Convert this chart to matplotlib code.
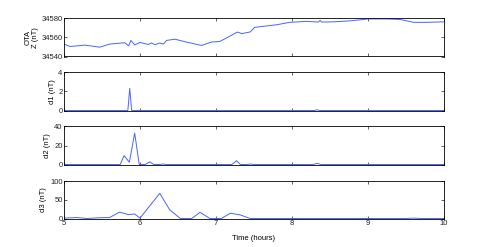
import numpy as np
import matplotlib
matplotlib.use('Agg')
import matplotlib.pyplot as plt

plt.rcParams['font.family'] = ['Liberation Sans', 'DejaVu Sans']
plt.rcParams['font.size'] = 5.5

# --- data ---
t_z = [5.0, 5.08, 5.28, 5.47, 5.6, 5.8, 5.85, 5.88, 5.93, 6.0, 6.11, 6.15, 6.2,
       6.26, 6.31, 6.35, 6.46, 6.61, 6.81, 6.94, 7.05, 7.18, 7.28, 7.34, 7.45,
       7.51, 7.8, 7.97, 8.19, 8.35, 8.37, 8.39, 8.54, 8.76, 9.0, 9.25, 9.42,
       9.6, 9.77, 10.0]
z = [34552.9, 34550.4, 34551.8, 34549.7, 34552.9, 34554.3, 34551.0, 34556.7,
     34552.0, 34554.6, 34552.5, 34554.0, 34552.3, 34554.0, 34553.0, 34556.7,
     34558.0, 34555.0, 34551.5, 34555.0, 34555.6, 34561.0, 34565.4, 34563.8,
     34565.5, 34570.3, 34573.0, 34575.5, 34576.5, 34575.8, 34577.5, 34575.8,
     34576.0, 34577.0, 34579.0, 34579.0, 34578.5, 34575.5, 34575.5, 34576.0]

t_d1 = [5.0, 5.84, 5.865, 5.89, 8.30, 8.33, 8.36, 10.0]
d1 = [0, 0, 2.3, 0, 0, 0.08, 0, 0]

t_d2 = [5.0, 5.74, 5.79, 5.86, 5.93, 5.99, 6.07, 6.13, 6.18, 6.26, 6.3, 6.35,
        7.21, 7.27, 7.32, 7.4, 7.45, 7.5, 8.28, 8.33, 8.38, 10.0]
d2 = [0, 0, 9.4, 2.4, 33, 0, 0, 2.8, 0, 0, 0.5, 0,
      0, 4.0, 0, 0, 0.5, 0, 0, 1.2, 0, 0]

t_d3 = [5.0, 5.17, 5.3, 5.47, 5.6, 5.73, 5.85, 5.93, 6.0, 6.26, 6.39, 6.53,
        6.68, 6.79, 6.92, 7.07, 7.19, 7.32, 7.45, 9.5, 9.6, 9.7, 10.0]
d3 = [1, 2.6, 0, 2, 2.6, 17, 10.4, 12, 1, 67, 23.5, 0,
      0, 16.5, 0, 0, 14, 9.5, 0, 0, 1, 0, 0]

panels = [
    (t_z, z, 'OTA\nZ (nT)', (34540, 34580), [34540, 34560, 34580]),
    (t_d1, d1, 'd1 (nT)', (0, 4), [0, 2, 4]),
    (t_d2, d2, 'd2 (nT)', (0, 40), [0, 20, 40]),
    (t_d3, d3, 'd3 (nT)', (0, 100), [0, 50, 100]),
]

line_color = '#4a63ff'
W, H = 491, 247
left, right = 64, 444
tops = [18, 72, 126.5, 181]
bottoms = [56.5, 110.5, 164.5, 218.5]

fig = plt.figure(figsize=(W / 100, H / 100), dpi=100)

for i, (tx, y, lab, ylim, yt) in enumerate(panels):
    ax = fig.add_axes([left / W, 1 - bottoms[i] / H,
                       (right - left) / W, (bottoms[i] - tops[i]) / H])
    ax.plot(tx, y, color=line_color, lw=0.7)
    ax.set_xlim(5, 10)
    ax.set_ylim(*ylim)
    ax.set_yticks(yt)
    ax.set_xticks([5, 6, 7, 8, 9, 10])
    ax.tick_params(direction='in', top=True, right=True, length=2,
                   width=0.5, pad=1, labelsize=5.5, colors='#222222')
    for s in ax.spines.values():
        s.set_linewidth(0.6)
    ax.set_ylabel(lab, fontsize=5.5, labelpad=2, linespacing=1.0)
    if i < 3:
        ax.set_xticklabels([])
    else:
        ax.set_xlabel('Time (hours)', fontsize=5.5, labelpad=6)

fig.savefig('out.png', dpi=100)
